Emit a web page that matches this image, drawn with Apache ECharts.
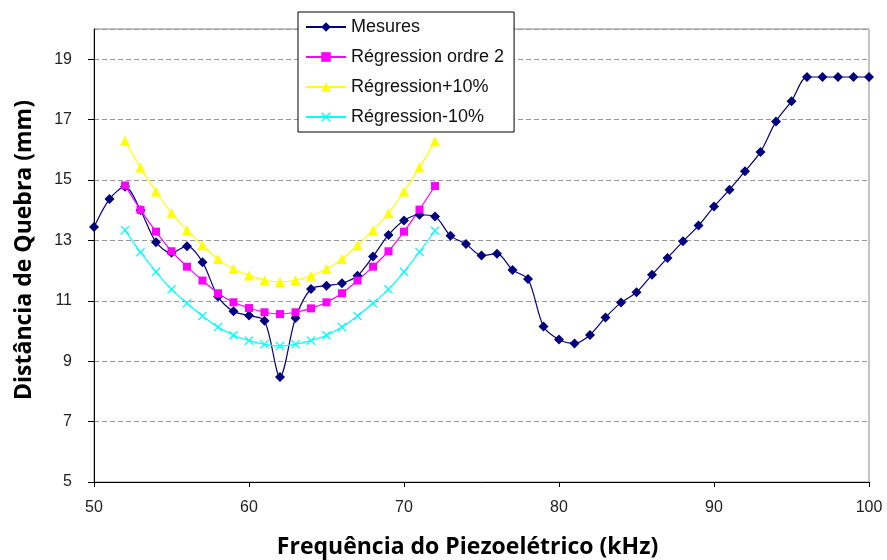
<!DOCTYPE html>
<html>
<head>
<meta charset="utf-8">
<script src="https://cdn.jsdelivr.net/npm/echarts@6/dist/echarts.min.js"></script>
<style>html,body{margin:0;padding:0;background:#fff;}#c{width:887px;height:560px;}</style>
</head>
<body>
<div id="c"></div>
<script>
var freqMes = [50,51,52,53,54,55,56,57,58,59,60,61,62,63,64,65,66,67,68,69,70,71,72,73,74,75,76,77,78,79,80,81,82,83,84,85,86,87,88,89,90,91,92,93,94,95,96,97,98,99,100];
var mesures = [13.44,14.37,14.78,14.0,12.94,12.59,12.81,12.28,11.14,10.65,10.51,10.34,8.48,10.43,11.39,11.5,11.58,11.83,12.47,13.18,13.66,13.85,13.79,13.15,12.88,12.5,12.56,12.02,11.72,10.15,9.72,9.59,9.87,10.45,10.94,11.28,11.86,12.42,12.97,13.49,14.12,14.68,15.29,15.93,16.94,17.61,18.41,18.41,18.41,18.41,18.41];
var freqReg = [52,53,54,55,56,57,58,59,60,61,62,63,64,65,66,67,68,69,70,71,72];
var regression = [14.82,14.01,13.29,12.64,12.13,11.67,11.25,10.95,10.76,10.62,10.56,10.62,10.75,10.95,11.25,11.67,12.13,12.64,13.29,14.02,14.80];
var regPlus = [16.30,15.41,14.62,13.90,13.34,12.84,12.38,12.05,11.84,11.68,11.62,11.68,11.83,12.05,12.38,12.84,13.34,13.90,14.62,15.42,16.28];
var regMinus = [13.34,12.61,11.96,11.38,10.92,10.50,10.13,9.86,9.68,9.56,9.50,9.56,9.68,9.86,10.13,10.50,10.92,11.38,11.96,12.62,13.32];
var seriesNames = ['Mesures','Régression ordre 2','Régression+10%','Régression-10%'];
var xTitle = 'Frequência do Piezoelétrico (kHz)';
var yTitle = 'Distância de Quebra (mm)';

function pairs(xs, ys){ return xs.map(function(x,i){ return [x, ys[i]]; }); }
var crossPath = 'path://M0,1L1,0L5,4L9,0L10,1L6,5L10,9L9,10L5,6L1,10L0,9L4,5Z';

var chart = echarts.init(document.getElementById('c'), null, {renderer:'canvas'});
chart.setOption({
  animation: false,
  backgroundColor: '#fff',
  grid: {left: 94, right: 18, top: 29, bottom: 78, containLabel: false, outerBoundsMode: 'none',
         show: true, borderColor: '#888', borderWidth: 1, backgroundColor: 'transparent'},
  legend: {
    orient: 'vertical', left: 298, top: 12, itemWidth: 40, itemHeight: 12, itemGap: 12,
    backgroundColor: '#fff', borderColor: '#000', borderWidth: 1, padding: [6, 10, 6, 7],
    textStyle: {fontFamily: 'Liberation Sans', fontSize: 18, color: '#111'},
    data: seriesNames
  },
  xAxis: {
    type: 'value', min: 50, max: 100, interval: 10,
    axisLine: {show: true, lineStyle: {color: '#000', width: 1}},
    axisTick: {show: true, length: 5, lineStyle: {color: '#000'}},
    axisLabel: {fontFamily: 'Liberation Sans', fontSize: 16, color: '#222', margin: 18},
    splitLine: {show: false},
    name: xTitle, nameLocation: 'middle', nameGap: 54,
    nameTextStyle: {fontFamily: 'Open Sans', fontWeight: 'bold', fontSize: 23, color: '#000', padding: [0, 28, 0, 0]}
  },
  yAxis: {
    type: 'value', min: 5, max: 20, interval: 2,
    axisLine: {show: true, lineStyle: {color: '#000', width: 1}},
    axisTick: {show: true, length: 6, lineStyle: {color: '#000'}},
    axisLabel: {fontFamily: 'Liberation Sans', fontSize: 16, color: '#222', margin: 22, showMaxLabel: false,
      formatter: function(v){ return v === 20 ? '' : v; }},
    splitLine: {show: true, lineStyle: {color: '#999', type: [5, 3], width: 1}},
    name: yTitle, nameLocation: 'middle', nameGap: 58, nameRotate: 90,
    nameTextStyle: {fontFamily: 'Open Sans', fontWeight: 'bold', fontSize: 23, color: '#000', padding: [0, 0, 0, 11]}
  },
  series: [
    {name: seriesNames[0], type: 'line', data: pairs(freqMes, mesures), smooth: 0.3,
     symbol: 'diamond', symbolSize: 10, lineStyle: {color: '#000080', width: 1.2}, itemStyle: {color: '#000080'}},
    {name: seriesNames[1], type: 'line', data: pairs(freqReg, regression), smooth: 0.3,
     symbol: 'rect', symbolSize: 8, lineStyle: {color: '#FF00FF', width: 1.2}, itemStyle: {color: '#FF00FF'}},
    {name: seriesNames[2], type: 'line', data: pairs(freqReg, regPlus), smooth: 0.3,
     symbol: 'triangle', symbolSize: 10, lineStyle: {color: '#FFFF00', width: 1.2}, itemStyle: {color: '#FFFF00'}},
    {name: seriesNames[3], type: 'line', data: pairs(freqReg, regMinus), smooth: 0.3,
     symbol: crossPath, symbolSize: 9, lineStyle: {color: '#00FFFF', width: 1.2}, itemStyle: {color: '#00FFFF'}}
  ]
});
</script>
</body>
</html>
